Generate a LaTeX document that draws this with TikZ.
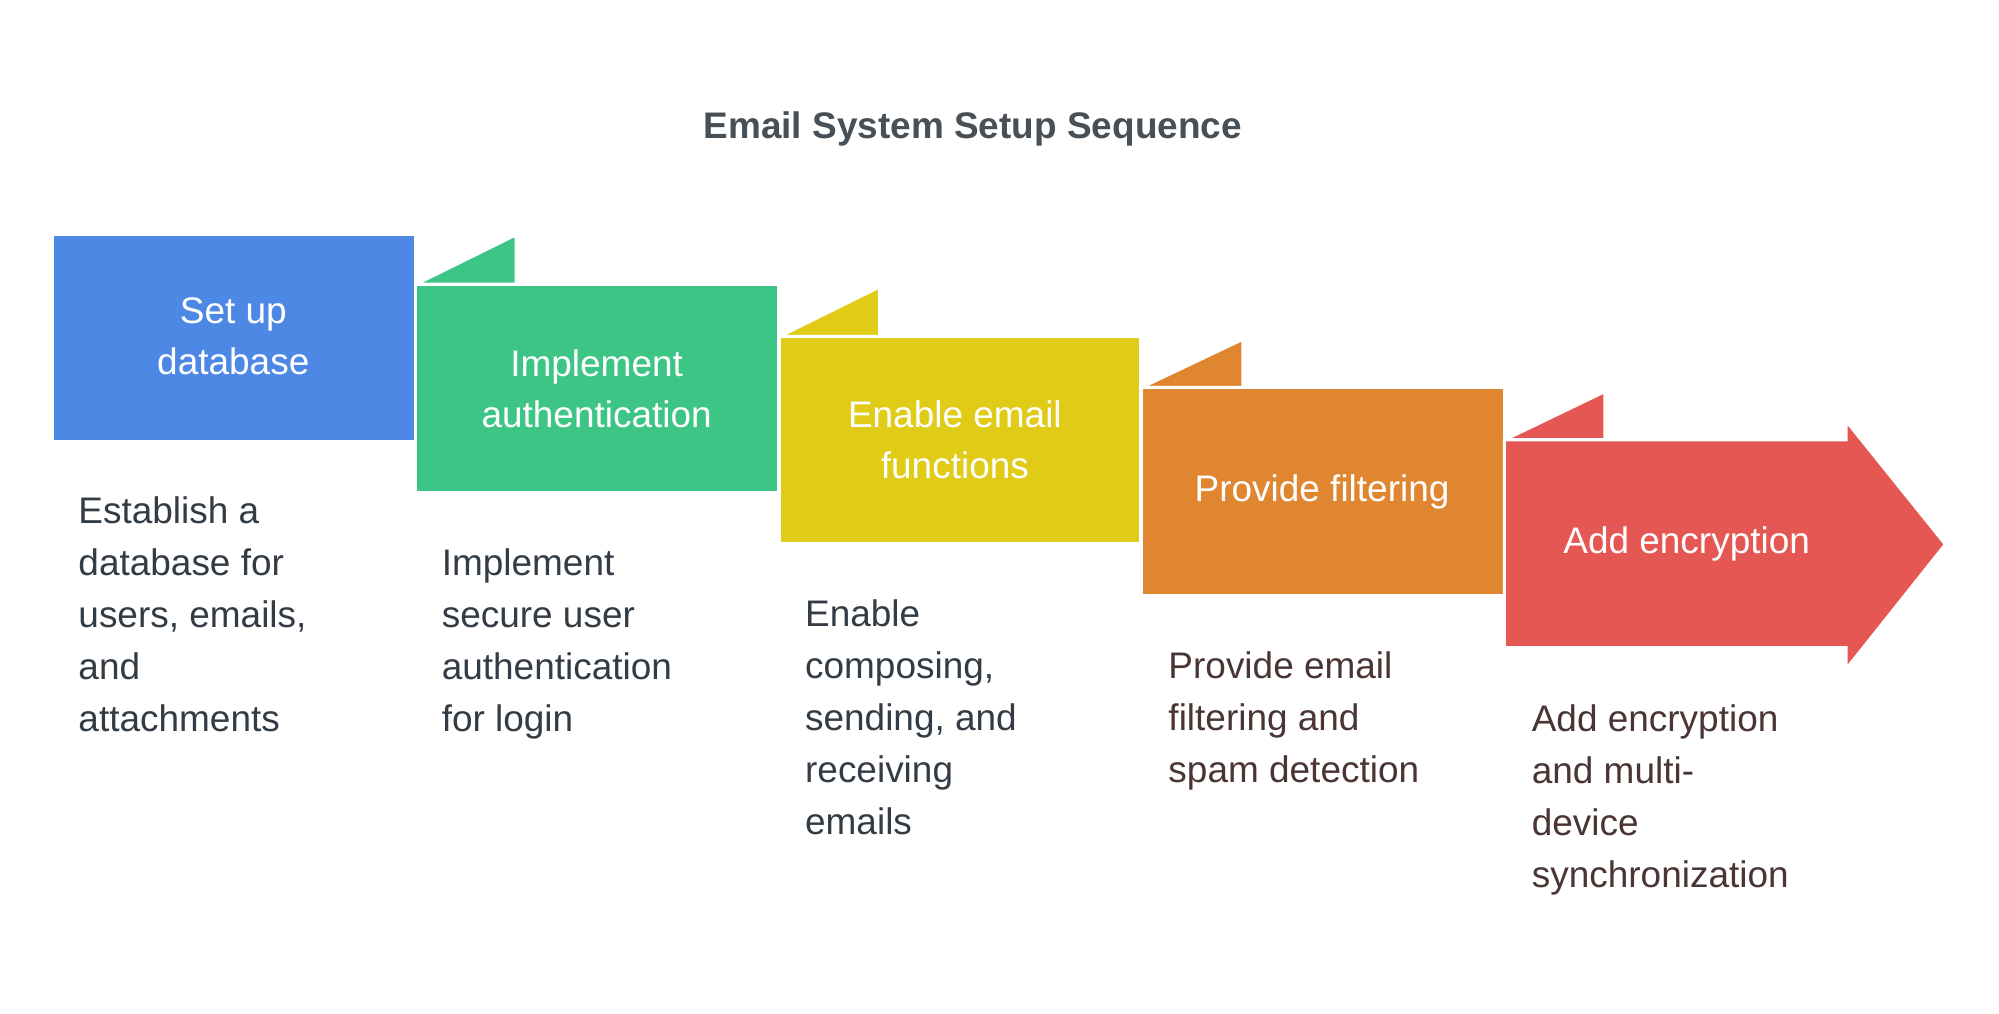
\documentclass[tikz,border=0pt]{standalone}
\usepackage{fontspec}
\setmainfont{Liberation Sans}
\definecolor{cblue}{HTML}{4E88E5}
\definecolor{cgreen}{HTML}{3DC585}
\definecolor{cyellow}{HTML}{E0CB17}
\definecolor{corange}{HTML}{E08631}
\definecolor{cred}{HTML}{E55753}
\definecolor{ctext}{HTML}{333C44}
\definecolor{ctextb}{HTML}{4A3434}
\begin{document}
\begin{tikzpicture}[x=1pt,y=-1pt,
  shp/.style={draw=white,line width=2.5pt,line join=miter},
  lbl/.style={text=white,font=\fontsize{29}{40}\selectfont,align=center},
  desc/.style={anchor=north west,align=left,font=\fontsize{29}{40.8}\selectfont}]
\useasboundingbox (0,0) rectangle (1568,795);
\node[font=\fontsize{29}{34}\selectfont\bfseries,text=ctext!90!white] (title) at (763,101) {Email System Setup Sequence};
% folds
\fill[cgreen,shp] (326,223) -- (405,184) -- (405,223) -- cycle;
\fill[cyellow,shp] (611,264) -- (690,225) -- (690,264) -- cycle;
\fill[corange,shp] (895,304) -- (975,266) -- (975,304) -- cycle;
\fill[cred,shp] (1180,345) -- (1259,307) -- (1259,345) -- cycle;
% boxes
\fill[cblue,shp] (41,184) rectangle (326,346);
\fill[cgreen,shp] (326,223) rectangle (611,386);
\fill[cyellow,shp] (611,264) rectangle (895,426);
\fill[corange,shp] (895,304) rectangle (1180,467);
\fill[cred,shp] (1180,345) -- (1448,345) -- (1448,330) -- (1526,427) -- (1448,525) -- (1448,508) -- (1180,508) -- cycle;
\node[lbl] (b1) at (183,264) {Set up\\database};
\node[lbl] (b2) at (468,305) {Implement\\authentication};
\node[lbl] (b3) at (749,345) {Enable email\\functions};
\node[lbl] (b4) at (1037,386) {Provide filtering};
\node[lbl] (b5) at (1323,427) {Add encryption};
\node[desc,text=ctext] (d1) at (58,386) {Establish a\\database for\\users, emails,\\and\\attachments};
\node[desc,text=ctext] (d2) at (343,427) {Implement\\secure user\\authentication\\for login};
\node[desc,text=ctext] (d3) at (628,467) {Enable\\composing,\\sending, and\\receiving\\emails};
\node[desc,text=ctextb] (d4) at (913,508) {Provide email\\filtering and\\spam detection};
\node[desc,text=ctextb] (d5) at (1198,549) {Add encryption\\and multi-\\device\\synchronization};
\end{tikzpicture}
\end{document}
